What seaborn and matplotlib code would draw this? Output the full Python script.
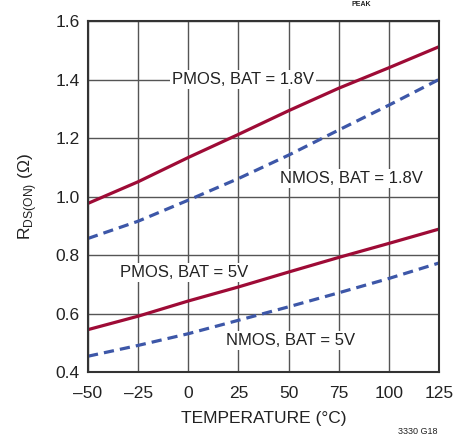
import matplotlib
matplotlib.use("Agg")
import matplotlib.pyplot as plt
import seaborn as sns
import pandas as pd

temps = [-50, -25, 0, 25, 50, 75, 100, 125]
pmos_18 = [0.977, 1.051, 1.134, 1.213, 1.294, 1.371, 1.441, 1.513]
nmos_18 = [0.857, 0.916, 0.988, 1.062, 1.142, 1.228, 1.313, 1.401]
pmos_5 = [0.545, 0.591, 0.643, 0.691, 0.742, 0.792, 0.840, 0.889]
nmos_5 = [0.454, 0.491, 0.531, 0.577, 0.623, 0.671, 0.720, 0.773]
xticks = [-50, -25, 0, 25, 50, 75, 100, 125]
yticks = [0.4, 0.6, 0.8, 1.0, 1.2, 1.4, 1.6]

sns.set_theme(style="white")
plt.rcParams['font.family'] = ['Liberation Sans', 'DejaVu Sans']
plt.rcParams['mathtext.fontset'] = 'custom'
plt.rcParams['mathtext.rm'] = 'Liberation Sans'

RED = "#9E0B36"
BLUE = "#3D57A8"

fig = plt.figure(figsize=(4.67, 4.38), dpi=100)
ax = fig.add_axes([88/467, 1-372/438, (439-88)/467, (372-21.3)/438])

series = [
    (pmos_18, RED, '-'),
    (nmos_18, BLUE, (0, (3.2, 1.9))),
    (pmos_5, RED, '-'),
    (nmos_5, BLUE, (0, (3.2, 1.9))),
]
for vals, col, ls in series:
    df = pd.DataFrame({"T": temps, "R": vals})
    sns.lineplot(data=df, x="T", y="R", ax=ax, color=col, linewidth=2.3,
                 linestyle=ls, zorder=3)

ax.set_xlim(-50, 125)
ax.set_ylim(0.4, 1.6)
ax.set_xticks(xticks)
ax.set_yticks(yticks)
ax.set_xticklabels([("\u2013" + str(abs(t))) if t < 0 else str(t) for t in xticks])
ax.set_yticklabels([f"{v:.1f}" for v in yticks])
ax.grid(True, color="#555555", linewidth=1.0)
ax.set_axisbelow(True)
ax.tick_params(length=0, labelsize=12.5, colors="#222222", pad=6)
ax.tick_params(axis='x', pad=10)
for s in ax.spines.values():
    s.set_color("#333333")
    s.set_linewidth(1.5)
    s.set_zorder(4)

ax.set_xlabel("TEMPERATURE (°C)", fontsize=12.5, color="#222222", labelpad=7)
ax.set_ylabel(r"R$_{\mathregular{DS(ON)}}$ ($\Omega$)", fontsize=12.5, color="#222222", labelpad=12)

bbox = dict(facecolor="white", edgecolor="none", pad=1.5)
lab_kw = dict(fontsize=12, color="#222222", ha="center", va="center", zorder=2.5, bbox=bbox)
ax.text(27.2, 1.40, "PMOS, BAT = 1.8V", **lab_kw)
ax.text(81.3, 1.062, "NMOS, BAT = 1.8V", **lab_kw)
ax.text(-2.0, 0.742, "PMOS, BAT = 5V", **lab_kw)
ax.text(50.9, 0.509, "NMOS, BAT = 5V", **lab_kw)

fig.text(361/467, 1-1/438, "PEAK", ha="center", va="top", fontsize=5,
         fontweight="bold", color="#222222")
fig.text(418/467, 1-432/438, "3330 G18", ha="center", va="center", fontsize=6.5,
         color="#222222")

fig.savefig("out.png", dpi=100)
